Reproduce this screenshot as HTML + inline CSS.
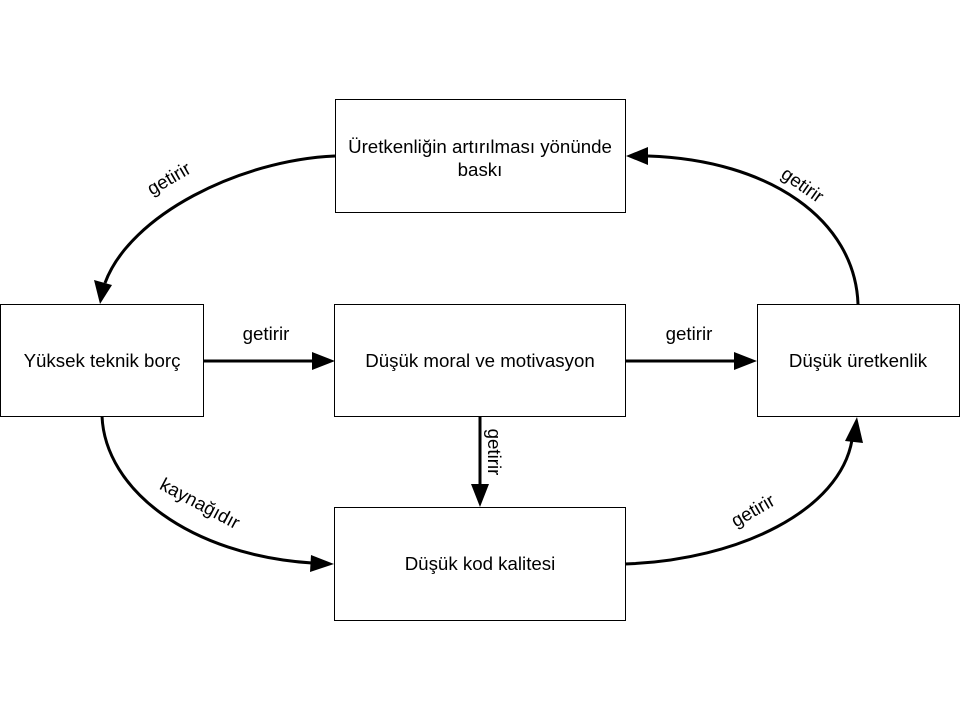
<!DOCTYPE html>
<html><head><meta charset="utf-8"><style>
html,body{margin:0;padding:0;background:#fff;}
svg{display:block;}
text{font-family:"Liberation Sans",Arial,sans-serif;font-size:18.7px;fill:#000;}
</style></head><body>
<svg width="960" height="720" viewBox="0 0 960 720" xmlns="http://www.w3.org/2000/svg">
<g fill="#fff" stroke="#000" stroke-width="1">
<rect x="335.5" y="99.5" width="290" height="113"/>
<rect x="0.5" y="304.5" width="203" height="112"/>
<rect x="334.5" y="304.5" width="291" height="112"/>
<rect x="757.5" y="304.5" width="202" height="112"/>
<rect x="334.5" y="507.5" width="291" height="113"/>
</g>
<g fill="none" stroke="#000" stroke-width="3">
<path d="M335,156 C240,160 130,215 105,283"/>
<path d="M858,304 C855,220 770,160 648,156"/>
<path d="M102,416 C105,490 190,555 312,563"/>
<path d="M625,564 C740,560 840,510 852,440"/>
<line x1="203" y1="361" x2="314" y2="361"/>
<line x1="625" y1="361" x2="736" y2="361"/>
<line x1="480" y1="416" x2="480" y2="486"/>
</g>
<g fill="#000">
<polygon points="100,304 94,280 112,285"/>
<polygon points="626,156 648,147 648,165"/>
<polygon points="334,564 311,555 310,572"/>
<polygon points="857,417 845,441 863,443"/>
<polygon points="335,361 312,352 312,370"/>
<polygon points="757,361 734,352 734,370"/>
<polygon points="480,507 471,484 489,484"/>
</g>
<text x="480" y="153" text-anchor="middle">Üretkenliğin artırılması yönünde</text>
<text x="480" y="176" text-anchor="middle">baskı</text>
<text x="102" y="367" text-anchor="middle">Yüksek teknik borç</text>
<text x="480" y="367" text-anchor="middle">Düşük moral ve motivasyon</text>
<text x="858" y="367" text-anchor="middle">Düşük üretkenlik</text>
<text x="480" y="570" text-anchor="middle">Düşük kod kalitesi</text>
<text x="266" y="340" text-anchor="middle">getirir</text>
<text x="689" y="340" text-anchor="middle">getirir</text>
<text transform="translate(172,184) rotate(-30)" text-anchor="middle">getirir</text>
<text transform="translate(799,190) rotate(35)" text-anchor="middle">getirir</text>
<text transform="translate(197,509) rotate(28)" text-anchor="middle">kaynağıdır</text>
<text transform="translate(756,516) rotate(-30)" text-anchor="middle">getirir</text>
<text transform="translate(488,452) rotate(90)" text-anchor="middle">getirir</text>
</svg>
</body></html>
